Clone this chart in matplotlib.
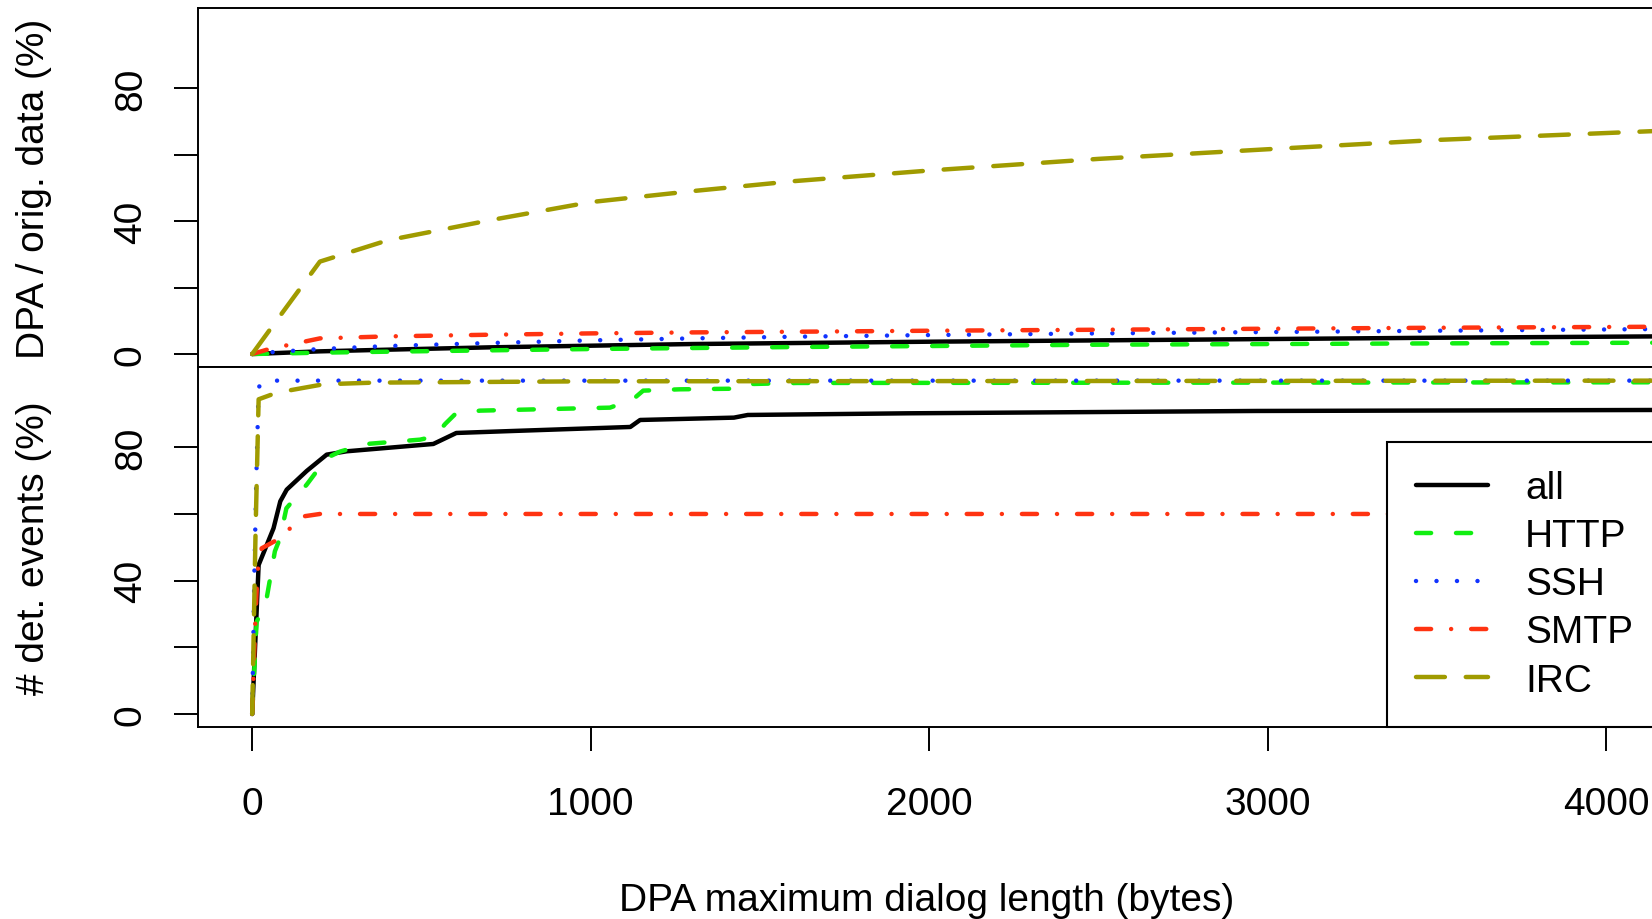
import matplotlib
matplotlib.use("Agg")
import matplotlib.pyplot as plt

plt.rcParams["font.family"] = ["Liberation Sans", "DejaVu Sans"]

# ---------------------------------------------------------------------------
# Data
# ---------------------------------------------------------------------------
# Top panel: DPA size / original data size (%)
top_x = [0, 50, 200, 400, 700, 1000, 1300, 1600, 2000, 2500, 3000, 3500, 4150]
top_all = [0, 0.2, 0.8, 1.3, 2.0, 2.5, 3.0, 3.3, 3.7, 4.1, 4.5, 4.9, 5.3]
top_http = [0, 0.1, 0.4, 0.7, 1.1, 1.5, 1.8, 2.1, 2.4, 2.8, 3.0, 3.2, 3.4]
top_ssh = [0, 0.5, 1.5, 2.4, 3.3, 4.1, 4.7, 5.2, 5.7, 6.2, 6.6, 7.0, 7.5]
top_smtp = [0, 1.5, 4.7, 5.3, 5.8, 6.2, 6.5, 6.7, 7.0, 7.3, 7.6, 7.9, 8.2]
top_irc = [0, 7.0, 27.8, 34.2, 40.2, 45.7, 49.0, 52.0, 55.2, 58.7, 61.6, 64.4, 67.1]

# Bottom panel: detected events (%)
all_x = [0, 19, 63, 83, 102, 161, 220, 279, 535, 603, 771, 1117, 1146, 1423,
         1464, 1938, 2966, 4150]
all_y = [0, 44.7, 55.7, 63.8, 67.3, 72.9, 77.8, 78.8, 81.0, 84.3, 84.9, 86.1,
         88.2, 88.9, 89.7, 90.2, 90.9, 91.2]

http_x = [0, 13, 41, 67, 82, 101, 161, 220, 259, 338, 496, 540, 570, 600, 673,
          1057, 1125, 1155, 1264, 1440, 1480, 1609, 4150]
http_y = [0, 27.6, 33.7, 48.8, 52.7, 61.7, 68.8, 76.8, 78.7, 81.0, 82.3, 83.3,
          87.0, 90.0, 91.0, 91.9, 94.4, 97.0, 97.4, 97.6, 99.0, 99.3, 99.5]

ssh_x = [0, 6, 12, 19, 35, 4150]
ssh_y = [0, 40, 70, 98, 100, 100]

smtp_x = [0, 10, 16, 28, 82, 112, 153, 200, 4150]
smtp_y = [0, 30, 43, 49.7, 52.7, 55.7, 59.3, 60.0, 60.0]

irc_x = [0, 10, 19, 73, 210, 358, 1000, 4150]
irc_y = [0, 55, 94.4, 96.4, 98.9, 99.4, 99.8, 100]

labels = ["all", "HTTP", "SSH", "SMTP", "IRC"]

# ---------------------------------------------------------------------------
# Styles
# ---------------------------------------------------------------------------
LW = 3.2
styles = {
    "all": dict(color="black", linestyle="-"),
    "HTTP": dict(color="#11ee11", dashes=(3.4, 5.6)),
    "SSH": dict(color="#1133ff", dashes=(0.01, 4.6)),
    "SMTP": dict(color="#ff3311", dashes=(3.4, 4.5, 0.01, 4.5)),
    "IRC": dict(color="#a09b00", dashes=(6.5, 4.7)),
}
FS = 28

fig = plt.figure(figsize=(16.52, 9.2), dpi=100)
left, width = 0.11967, 0.88275
ax_top = fig.add_axes([left, 0.59967, width, 0.39022])
ax_bot = fig.add_axes([left, 0.20837, width, 0.3913])

top_series = [top_all, top_http, top_ssh, top_smtp, top_irc]
for name, ys in zip(labels, top_series):
    ax_top.plot(top_x, ys, lw=LW, solid_capstyle="round",
                dash_capstyle="round", **styles[name])

bot_series = [(all_x, all_y), (http_x, http_y), (ssh_x, ssh_y),
              (smtp_x, smtp_y), (irc_x, irc_y)]
for name, (xs, ys) in zip(labels, bot_series):
    ax_bot.plot(xs, ys, lw=LW, solid_capstyle="round",
                dash_capstyle="round", label=name, **styles[name])

yticks = [0, 20, 40, 60, 80]
ytick_labels = ["0", "", "40", "", "80"]
for ax in (ax_top, ax_bot):
    ax.set_xlim(-161, 4147)
    ax.set_ylim(-4, 104)
    ax.set_yticks(yticks)
    ax.set_yticklabels(ytick_labels)
    for sp in ax.spines.values():
        sp.set_linewidth(1.4)
    ax.tick_params(axis="y", length=17.3, width=1.4, labelsize=FS,
                   labelrotation=90, pad=30.8)
    plt.setp(ax.get_yticklabels(), ha="center", va="center")

ax_top.set_xticks([])
ax_bot.set_xticks([0, 1000, 2000, 3000, 4000])
ax_bot.tick_params(axis="x", length=17.3, width=1.4, labelsize=FS, pad=25)

ax_top.set_ylabel("DPA / orig. data (%)", fontsize=FS, va="center")
ax_top.yaxis.set_label_coords(-0.1123, 0.5)
ax_bot.set_ylabel("# det. events (%)", fontsize=FS, va="center")
ax_bot.yaxis.set_label_coords(-0.1123, 0.5)
ax_bot.set_xlabel("DPA maximum dialog length (bytes)", fontsize=FS)
ax_bot.xaxis.set_label_coords(0.5, -0.430)

leg = ax_bot.legend(loc="lower left", bbox_to_anchor=(0.8157, 0),
                    borderaxespad=0, fontsize=FS, handlelength=1.85,
                    handletextpad=0.95, labelspacing=0.31, borderpad=0.74,
                    fancybox=False, framealpha=1, edgecolor="black")
leg.get_frame().set_linewidth(1.5)

fig.savefig("out.png", dpi=100)
